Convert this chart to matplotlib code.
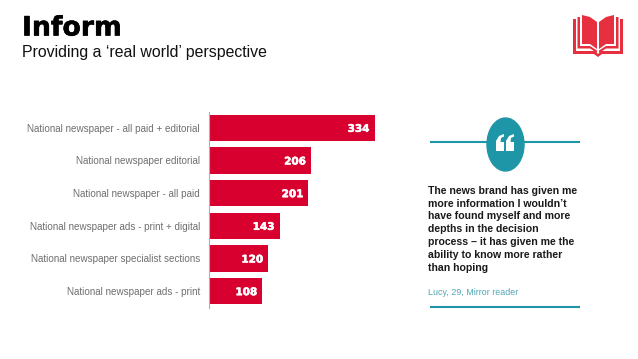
import matplotlib
matplotlib.use("Agg")
import matplotlib.pyplot as plt
import matplotlib.patheffects as pe
from matplotlib.patches import Ellipse, Polygon

plt.rcParams['font.family'] = ['Liberation Sans', 'DejaVu Sans']

categories = [
    "National newspaper - all paid + editorial",
    "National newspaper editorial",
    "National newspaper - all paid",
    "National newspaper ads - print + digital",
    "National newspaper specialist sections",
    "National newspaper ads - print",
]
values = [334, 206, 201, 143, 120, 108]

quote_lines = [
    "The news brand has given me",
    "more information I wouldn\u2019t",
    "have found myself and more",
    "depths in the decision",
    "process \u2013 it has given me the",
    "ability to know more rather",
    "than hoping",
]
RED = '#d7002e'
TEAL = '#1f96a8'
W, H = 638, 359

fig = plt.figure(figsize=(W / 100, H / 100), dpi=100, facecolor='white')

# overlay in pixel coords for the slide furniture
bg = fig.add_axes([0, 0, 1, 1])
bg.set_xlim(0, W)
bg.set_ylim(H, 0)
bg.axis('off')

# === Bar chart ===
ax = fig.add_axes([208.5 / W, 1 - 307.5 / H, 170 / W, 196 / H])
y = list(range(len(values)))
ax.barh(y, values, height=0.8, color=RED)
ax.set_xlim(0, 170 / (166 / 334))
ax.set_ylim(len(values) - 0.5, -0.5)
ax.set_yticks(y)
ax.set_yticklabels(categories, fontsize=7.1, color='#6f6f6f')
ax.tick_params(axis='y', length=0, pad=6.2)
ax.xaxis.set_visible(False)
for s in ['top', 'right', 'bottom']:
    ax.spines[s].set_visible(False)
ax.spines['left'].set_color('#b0b0b0')
ax.spines['left'].set_linewidth(0.8)
ax.patch.set_alpha(0)
for i, v in enumerate(values):
    ax.text(v - 10, i + 0.03, str(v), ha='right', va='center', color='white',
            fontsize=7.5, fontweight='bold', family='DejaVu Sans',
            path_effects=[pe.withStroke(linewidth=0.4, foreground='white')])

# === Titles ===
bg.text(22, 35.5, "Inform", fontsize=19.2, fontweight='bold', color='black',
        va='baseline', ha='left', family='DejaVu Sans',
        path_effects=[pe.withStroke(linewidth=0.4, foreground='black')])
bg.text(22, 57, "Providing a \u2018real world\u2019 perspective", fontsize=11.45,
        color='#111111', va='baseline', ha='left')

# === Quote panel ===
bg.plot([430, 580], [142, 142], color=TEAL, lw=1.5, solid_capstyle='butt', zorder=1)
bg.plot([430, 580], [306.5, 306.5], color=TEAL, lw=1.5, solid_capstyle='butt', zorder=1)
bg.add_patch(Ellipse((505.5, 144.5), 37, 53, color=TEAL, zorder=2))
for dx in (0, 10):
    bg.add_patch(Polygon([(496 + dx, 151), (504 + dx, 151), (504 + dx, 142), (500.5 + dx, 142),
                          (501 + dx, 138), (504 + dx, 136.5), (504 + dx, 134), (499 + dx, 136),
                          (496 + dx, 141)], color='white', lw=0, zorder=3))
for i, line in enumerate(quote_lines):
    bg.text(428, 193.7 + i * 12.85, line, fontsize=7.6, fontweight='bold', color='#1a1a1a',
            va='baseline', ha='left')
bg.text(428, 295, "Lucy, 29, Mirror reader", fontsize=6.4, color='#4fa6b5',
        va='baseline', ha='left')

# === Book icon ===
BOOK = '#e6303f'
C = 598  # spine of the book
for sign in (-1, 1):
    # outer cover
    bg.add_patch(Polygon([(C + sign * 25, 19), (C + sign * 25, 54), (C + sign * 4, 54), (C, 57),
                          (C, 54), (C + sign * 3, 51), (C + sign * 22, 51), (C + sign * 22, 19)],
                         color=BOOK, lw=0))
    # inner pages
    bg.add_patch(Polygon([(C + sign * 20.5, 17), (C + sign * 20.5, 48.5), (C + sign * 8, 48.5),
                          (C + sign * 1, 53), (C + sign * 1, 50.5), (C + sign * 8, 46),
                          (C + sign * 18, 46), (C + sign * 18, 17)], color=BOOK, lw=0))
    # main page
    bg.add_patch(Polygon([(C + sign * 16, 15), (C + sign * 8, 17), (C + sign * 1, 22),
                          (C + sign * 1, 49), (C + sign * 8, 44), (C + sign * 16, 44)],
                         color=BOOK, lw=0))

fig.savefig("out.png", dpi=100, facecolor='white')
